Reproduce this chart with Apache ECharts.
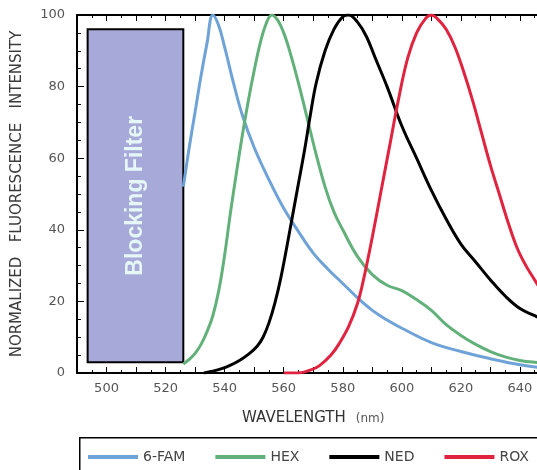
<!DOCTYPE html>
<html>
<head>
<meta charset="utf-8">
<script src="https://cdn.jsdelivr.net/npm/echarts@6/dist/echarts.min.js"></script>
<style>
html, body { margin: 0; padding: 0; background: #fff; overflow: hidden; }
/* the plot and legend run past the right edge of the window, like the cropped original */
#chart { width: 640px; height: 470px; }
</style>
</head>
<body>
<div id="chart"></div>
<script>
// wavelength (nm) / normalized intensity
const famWl  = [526, 528, 530, 532, 534, 536, 538, 540, 543, 546, 550, 555, 560, 565, 570, 575, 580, 585, 590, 595, 600, 610, 620, 630, 640, 650];
const famVal = [52, 63, 73, 83, 92, 100, 97, 91, 81, 72, 63, 54, 46, 39.5, 33.5, 29, 25, 21, 17.5, 14.8, 12.5, 8.5, 6, 4, 2.3, 1.2];

const hexWl  = [526, 528, 530, 532, 534, 536, 538, 540, 542, 544, 546, 548, 550, 552, 554, 556, 558, 560, 562, 565, 568, 571, 574, 577, 580, 585, 590, 595, 600, 605, 610, 615, 620, 625, 630, 635, 640, 645, 650];
const hexVal = [2.5, 3.8, 5.5, 8, 11.5, 16, 23, 33, 45, 56, 66.5, 76, 84.5, 92, 97.5, 100, 98.5, 95, 90, 81, 71, 61, 52, 45, 40, 32.5, 27.5, 24.5, 23, 20.5, 17.5, 13.5, 10.5, 8, 6, 4.5, 3.5, 3, 2.5];

const nedWl  = [533, 536, 539, 542, 545, 548, 551, 553, 555, 557, 559, 561, 563, 565, 567, 569, 571, 574, 577, 580, 582, 585, 588, 591, 595, 600, 605, 610, 615, 620, 625, 630, 635, 640, 645, 650];
const nedVal = [0, 0.5, 1.2, 2.2, 3.5, 5.2, 7.5, 10, 14, 19.5, 26.5, 35, 44, 53, 62, 72, 81, 90, 96, 99.5, 100, 98, 94, 88, 80, 69, 60, 51, 43, 36, 31, 26, 21.5, 18, 16, 14];

const roxWl  = [560, 565, 569, 572, 576, 579, 582, 585, 587, 590, 593, 596, 599, 602, 605, 608, 610, 612, 615, 618, 621, 624, 627, 630, 633, 636, 639, 642, 645, 648, 650];
const roxVal = [0, 0, 0.8, 2, 5, 8.5, 13, 19.5, 26, 38, 51, 64, 77, 88, 95, 99, 100, 99, 96, 91, 84, 76, 67, 58, 50, 42, 35, 30, 26, 22, 20];

const xTickLabels = [500, 520, 540, 560, 580, 600, 620, 640];
const yTickLabels = [0, 20, 40, 60, 80, 100];

// blocking filter band: [x0, y0] -> [x1, y1]
const filterBox = [[493.6, 3], [526, 96]];

const names  = ['6-FAM', 'HEX', 'NED', 'ROX'];
const colors = ['#6fa3d8', '#62b17a', '#000000', '#e0243f'];

function pairs(xs, ys) {
  return xs.map((x, i) => [x, ys[i]]);
}

const font = '"DejaVu Sans", "Liberation Sans", sans-serif';
const boldFont = '"Liberation Sans", Arial, sans-serif';

let chart = echarts.init(document.getElementById('chart'));

let axisBase = {
  type: 'value',
  min: 490,
  max: 650,
  interval: 10,
  axisLine: { lineStyle: { color: '#000', width: 2 } },
  axisTick: { inside: true, length: 6, lineStyle: { color: '#000', width: 1 } },
  minorTick: { show: true, splitNumber: 2, length: 3, lineStyle: { color: '#000' } },
  splitLine: { show: false }
};

function line(i, xs, ys) {
  return {
    name: names[i],
    type: 'line',
    smooth: 0.4,
    symbol: 'none',
    lineStyle: { width: 3, color: colors[i] },
    data: pairs(xs, ys)
  };
}

let famSeries = line(0, famWl, famVal);
famSeries.markArea = {
  silent: true,
  itemStyle: { color: '#a7a9d8', borderColor: '#000', borderWidth: 2 },
  label: {
    show: true,
    position: 'inside',
    rotate: 90,
    fontFamily: boldFont,
    fontWeight: 'bold',
    fontSize: 23,
    color: '#e6f7f7'
  },
  data: [[
    { name: 'Blocking Filter', coord: filterBox[0] },
    { coord: filterBox[1] }
  ]]
};

let option = {
  animation: false,
  backgroundColor: '#fff',
  color: colors,
  grid: { left: 77, top: 15, right: 90.5, bottom: 97 },
  // legend frame (left and top edges only, the rest is cut off by the window)
  graphic: [{
    type: 'polyline',
    shape: { points: [[79.75, 472], [79.75, 437.75], [640, 437.75]] },
    style: { fill: null, stroke: '#000', lineWidth: 1.5 }
  }],
  legend: {
    left: 79,
    top: 437,
    data: names,
    icon: 'rect',
    itemWidth: 50,
    itemHeight: 4,
    itemGap: 30,
    padding: [13, 30, 13, 9],
    textStyle: { fontFamily: font, fontSize: 14, color: '#444' }
  },
  xAxis: [
    Object.assign({}, axisBase, {
      position: 'bottom',
      name: '{a|WAVELENGTH}   {b|(nm)}',
      nameLocation: 'middle',
      nameGap: 38,
      nameTextStyle: {
        rich: {
          a: { fontFamily: font, fontSize: 15, color: '#333' },
          b: { fontFamily: font, fontSize: 12, color: '#555' }
        }
      },
      axisLabel: {
        margin: 9,
        fontFamily: font,
        fontSize: 13,
        color: '#555',
        formatter: v => xTickLabels.includes(v) ? String(v) : ''
      }
    }),
    Object.assign({}, axisBase, {
      position: 'top',
      axisLabel: { show: false }
    })
  ],
  yAxis: {
    type: 'value',
    min: 0,
    max: 100,
    interval: 20,
    name: 'NORMALIZED   FLUORESCENCE   INTENSITY',
    nameLocation: 'middle',
    nameGap: 52,
    nameTextStyle: { fontFamily: font, fontSize: 15, color: '#3a3a3a' },
    axisLine: { show: true, lineStyle: { color: '#000', width: 2 } },
    axisTick: { inside: true, length: 7, lineStyle: { color: '#000' } },
    minorTick: { show: true, splitNumber: 4, length: 4, lineStyle: { color: '#000' } },
    splitLine: { show: false },
    axisLabel: {
      margin: 12,
      fontFamily: font,
      fontSize: 13,
      color: '#555',
      formatter: v => yTickLabels.includes(v) ? String(v) : ''
    }
  },
  series: [
    famSeries,
    line(1, hexWl, hexVal),
    line(2, nedWl, nedVal),
    line(3, roxWl, roxVal)
  ]
};

chart.setOption(option);
</script>
</body>
</html>
